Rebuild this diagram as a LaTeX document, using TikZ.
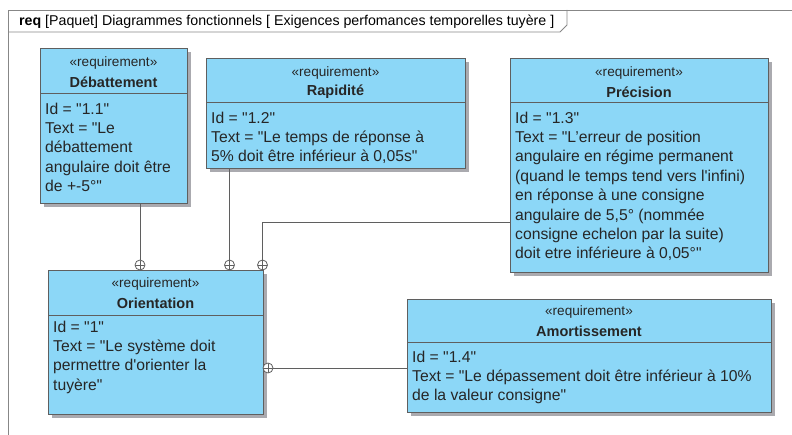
\documentclass[tikz,border=0pt]{standalone}
\usepackage{fontspec}
\newfontfamily\lib{Liberation Sans}
\usetikzlibrary{shadows}
\definecolor{reqfill}{RGB}{140,215,247}
\definecolor{reqline}{RGB}{95,95,95}
\definecolor{shad}{RGB}{170,170,175}
\definecolor{framec}{RGB}{135,135,135}
\begin{document}
\begin{tikzpicture}[x=1pt,y=-1pt,
  every node/.style={font=\lib, inner sep=0pt},
  reqbox/.style={draw=reqline, fill=reqfill, line width=0.9pt, rectangle, anchor=north west,
    drop shadow={shadow xshift=4pt, shadow yshift=-4pt, fill=shad, opacity=1}},
  stereo/.style={font=\lib\fontsize{13.6}{16}\selectfont, text=black!85},
  rname/.style={font=\lib\bfseries\fontsize{14.5}{17}\selectfont, text=black!85},
  body/.style={font=\lib\fontsize{15.7}{19.4}\selectfont, align=left, anchor=north west, text=black!85},
  divline/.style={draw=reqline, line width=0.8pt},
  conn/.style={draw=reqline, line width=0.8pt},
  oplus/.style={circle, draw=reqline, line width=0.8pt, fill=white, minimum size=10pt, inner sep=0pt,
    path picture={\draw[reqline, line width=0.8pt] (path picture bounding box.north) -- (path picture bounding box.south)
      (path picture bounding box.west) -- (path picture bounding box.east);}},
  framel/.style={draw=framec, line width=0.9pt}
]
\useasboundingbox (0,0) rectangle (792,435);
% frame
\draw[framel] (8,435) -- (8,10) -- (792,10);
\draw[framel] (8,32) -- (560,32) -- (567,25) -- (567,10);
\node[anchor=west, font=\lib\fontsize{14.2}{16}\selectfont] (title) at (19,21.5)
  {\textbf{req} [Paquet] Diagrammes fonctionnels [ Exigences perfomances temporelles tuyère ]};

% Débattement
\node[reqbox, minimum width=147pt, minimum height=155pt] (deb) at (40,48) {};
\draw[divline] (deb.west |- 0,93) -- (deb.east |- 0,93);
\node[stereo] (debS) at (113.5,63) {«requirement»};
\node[rname] (debN) at (113.5,82) {Débattement};
\node[body] (debB) at (45,102.5) {Id = "1.1"\\Text = "Le\\débattement\\angulaire doit être\\de +-5°"};

% Rapidité
\node[reqbox, minimum width=259pt, minimum height=110pt] (rap) at (206,58) {};
\draw[divline] (rap.west |- 0,102) -- (rap.east |- 0,102);
\node[stereo] (rapS) at (335.5,73) {«requirement»};
\node[rname] (rapN) at (335.5,92) {Rapidité};
\node[body] (rapB) at (211,111.5) {Id = "1.2"\\Text = "Le temps de réponse à\\5\% doit être inférieur à 0,05s"};

% Précision
\node[reqbox, minimum width=258pt, minimum height=214pt] (pre) at (510,58) {};
\draw[divline] (pre.west |- 0,102) -- (pre.east |- 0,102);
\node[stereo] (preS) at (639,73) {«requirement»};
\node[rname] (preN) at (639,92) {Précision};
\node[body] (preB) at (515,111.5) {Id = "1.3"\\Text = "L’erreur de position\\angulaire en régime permanent\\(quand le temps tend vers l'infini)\\en réponse à une consigne\\angulaire de 5,5° (nommée\\consigne echelon par la suite)\\doit etre inférieure à 0,05°"};

% Orientation
\node[reqbox, minimum width=215pt, minimum height=144pt] (ori) at (48,270) {};
\draw[divline] (ori.west |- 0,315) -- (ori.east |- 0,315);
\node[stereo] (oriS) at (155.5,284) {«requirement»};
\node[rname] (oriN) at (155.5,303) {Orientation};
\node[body] (oriB) at (53,320.5) {Id = "1"\\Text = "Le système doit\\permettre d'orienter la\\tuyère"};

% Amortissement
\node[reqbox, minimum width=364pt, minimum height=113pt] (amo) at (407,299) {};
\draw[divline] (amo.west |- 0,342) -- (amo.east |- 0,342);
\node[stereo] (amoS) at (589,312) {«requirement»};
\node[rname] (amoN) at (589,331) {Amortissement};
\node[body] (amoB) at (412,350.5) {Id = "1.4"\\Text = "Le dépassement doit être inférieur à 10\%\\de la valeur consigne"};

% containment connectors
\node[oplus] (o1) at (140,265) {};
\node[oplus] (o2) at (229.5,265) {};
\node[oplus] (o3) at (262.5,265) {};
\node[oplus] (o4) at (268,368) {};
\coordinate (k3) at (262.5,222);
\draw[conn] (deb.south -| o1) -- (o1.north);
\draw[conn] (rap.south -| o2) -- (o2.north);
\draw[conn] (pre.west |- k3) -- (k3) -- (o3.north);
\draw[conn] (amo.west |- o4) -- (o4.east);
\end{tikzpicture}
\end{document}
